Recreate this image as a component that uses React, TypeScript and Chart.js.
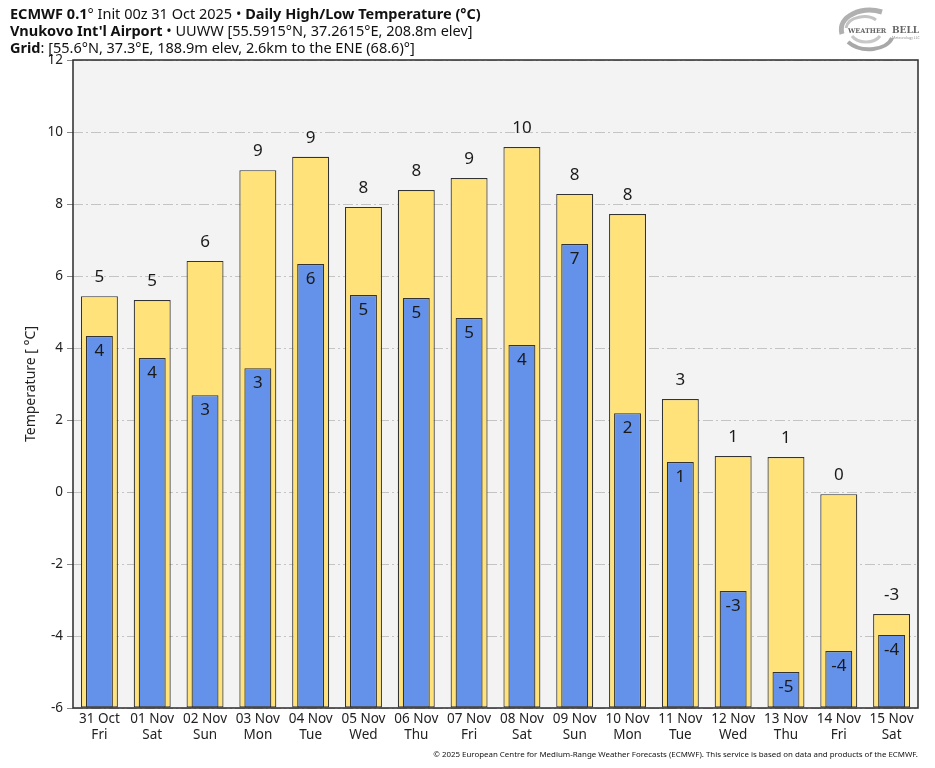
import React, { useEffect, useRef } from "react";
import { Chart, registerables } from "chart.js";

Chart.register(...registerables);

const dates = ["31 Oct", "01 Nov", "02 Nov", "03 Nov", "04 Nov", "05 Nov", "06 Nov", "07 Nov", "08 Nov", "09 Nov", "10 Nov", "11 Nov", "12 Nov", "13 Nov", "14 Nov", "15 Nov"];
const weekdays = ["Fri", "Sat", "Sun", "Mon", "Tue", "Wed", "Thu", "Fri", "Sat", "Sun", "Mon", "Tue", "Wed", "Thu", "Fri", "Sat"];
const highTemps = [5.44, 5.33, 6.42, 8.94, 9.31, 7.92, 8.39, 8.72, 9.58, 8.28, 7.72, 2.58, 1.0, 0.97, -0.06, -3.39];
const lowTemps = [4.33, 3.72, 2.69, 3.44, 6.33, 5.47, 5.39, 4.83, 4.08, 6.89, 2.19, 0.83, -2.75, -5.0, -4.42, -3.97];
const yMin = -6;
const yMax = 12;
const yStep = 2;

const FONT = "'Noto Sans', 'DejaVu Sans', sans-serif";

const fmt = (v: number) => String(Math.round(v) === 0 ? 0 : Math.round(v));

const plotPlugin = {
  id: "plotDecor",
  beforeDraw(chart: any) {
    const { ctx, chartArea: a } = chart;
    ctx.save();
    ctx.fillStyle = "#f3f3f3";
    ctx.fillRect(a.left, a.top, a.right - a.left, a.bottom - a.top);
    ctx.restore();
  },
  afterDatasetsDraw(chart: any) {
    const { ctx, chartArea: a } = chart;
    ctx.save();
    ctx.font = `17px ${FONT}`;
    ctx.fillStyle = "#1a1a1a";
    ctx.textAlign = "center";
    ctx.textBaseline = "middle";
    chart.data.datasets.forEach((ds: any, di: number) => {
      const meta = chart.getDatasetMeta(di);
      meta.data.forEach((bar: any, i: number) => {
        const v = ds.data[i];
        if (ds.kind === "high") {
          ctx.fillText(fmt(v), bar.x, bar.y - 19);
        } else {
          ctx.fillText(fmt(v), bar.x, bar.y + 15);
        }
      });
    });
    ctx.strokeStyle = "#2b2b2b";
    ctx.lineWidth = 1.5;
    ctx.strokeRect(a.left, a.top, a.right - a.left, a.bottom - a.top);
    ctx.font = `14px ${FONT}`;
    ctx.fillStyle = "#222";
    ctx.translate(31, (a.top + a.bottom) / 2);
    ctx.rotate(-Math.PI / 2);
    ctx.fillText("Temperature [ °C]", 0, 0);
    ctx.restore();
  },
};

export default function App() {
  const ref = useRef<HTMLCanvasElement | null>(null);

  useEffect(() => {
    if (!ref.current) return;
    Chart.defaults.font.family = FONT;
    const chart = new Chart(ref.current, {
      type: "bar",
      data: {
        labels: dates.map((d, i) => [d, weekdays[i]]),
        datasets: [
          {
            kind: "high",
            data: highTemps,
            base: yMin,
            backgroundColor: "#ffe27a",
            borderColor: "#333333",
            borderWidth: 1.2,
            borderSkipped: false,
            grouped: false,
            barPercentage: 0.7,
            categoryPercentage: 1,
            order: 2,
          } as any,
          {
            kind: "low",
            data: lowTemps,
            base: yMin,
            backgroundColor: "#6492ea",
            borderColor: "#333333",
            borderWidth: 1.2,
            borderSkipped: false,
            grouped: false,
            barPercentage: 0.51,
            categoryPercentage: 1,
            order: 1,
          } as any,
        ],
      },
      options: {
        responsive: false,
        animation: false,
        layout: { padding: { left: 0, right: 17, top: 60, bottom: 0 } },
        plugins: {
          legend: { display: false },
          tooltip: { enabled: false },
          title: { display: false },
        },
        scales: {
          x: {
            grid: { display: false, drawTicks: false },
            border: { display: false },
            ticks: {
              color: "#222",
              font: { size: 13.5, family: FONT },
              padding: 3,
              maxRotation: 0,
              autoSkip: false,
            },
            afterFit: (s: any) => {
              s.height = 60;
            },
          },
          y: {
            min: yMin,
            max: yMax,
            ticks: {
              stepSize: yStep,
              color: "#222",
              font: { size: 13.5, family: FONT },
              padding: 4,
            },
            grid: {
              color: "#c4c4c4",
              lineWidth: 1,
              tickLength: 6,
              tickColor: "#888",
              tickBorderDash: [],
            },
            border: { display: false, dash: [10, 3, 2, 3] },
            afterFit: (s: any) => {
              s.width = 73;
            },
          },
        },
      },
      plugins: [plotPlugin],
    });
    return () => chart.destroy();
  }, []);

  return (
    <div style={{ position: "absolute", left: 0, top: 0, width: 935, height: 768, background: "#fff", fontFamily: FONT, color: "#111" }}>
      <canvas ref={ref} width={935} height={768} style={{ display: "block", position: "absolute", left: 0, top: 0 }} />
      <div style={{ position: "absolute", left: 10, top: 5, fontSize: 14.5, lineHeight: "16.8px", whiteSpace: "nowrap" }}>
        <div>
          <b>ECMWF 0.1</b>° Init 00z 31 Oct 2025 • <b>Daily High/Low Temperature (°C)</b>
        </div>
        <div>
          <b>Vnukovo Int'l Airport</b> • UUWW [55.5915°N, 37.2615°E, 208.8m elev]
        </div>
        <div>
          <b>Grid</b>: [55.6°N, 37.3°E, 188.9m elev, 2.6km to the ENE (68.6)°]
        </div>
      </div>
      <svg style={{ position: "absolute", left: 832, top: 4 }} width={92} height={50} viewBox="0 0 92 50">
        <path d="M10 30 C 5 12, 30 2, 50 8" stroke="#b0b0b0" strokeWidth={5} fill="none" />
        <path d="M16 38 C 30 50, 55 46, 60 34" stroke="#a8a8a8" strokeWidth={4} fill="none" />
        <path d="M14 24 C 16 12, 36 10, 44 16" stroke="#c4c4c4" strokeWidth={3} fill="none" />
        <path d="M20 32 C 26 40, 42 40, 48 32" stroke="#c8c8c8" strokeWidth={3} fill="none" />
        <text x={16} y={29} fontFamily="'DejaVu Serif', serif" fontSize={6.5} fill="#666" fontWeight="bold">WEATHER</text>
        <text x={60} y={29} fontFamily="'DejaVu Serif', serif" fontSize={9} fill="#666" fontWeight="bold">BELL</text>
        <text x={60} y={35} fontFamily={FONT} fontSize={3.5} fill="#888">Meteorology LLC</text>
      </svg>
      <div style={{ position: "absolute", right: 17, top: 749, fontSize: 7.9, lineHeight: "11px", whiteSpace: "nowrap", color: "#111" }}>
        © 2025 European Centre for Medium-Range Weather Forecasts (ECMWF). This service is based on data and products of the ECMWF.
      </div>
    </div>
  );
}
